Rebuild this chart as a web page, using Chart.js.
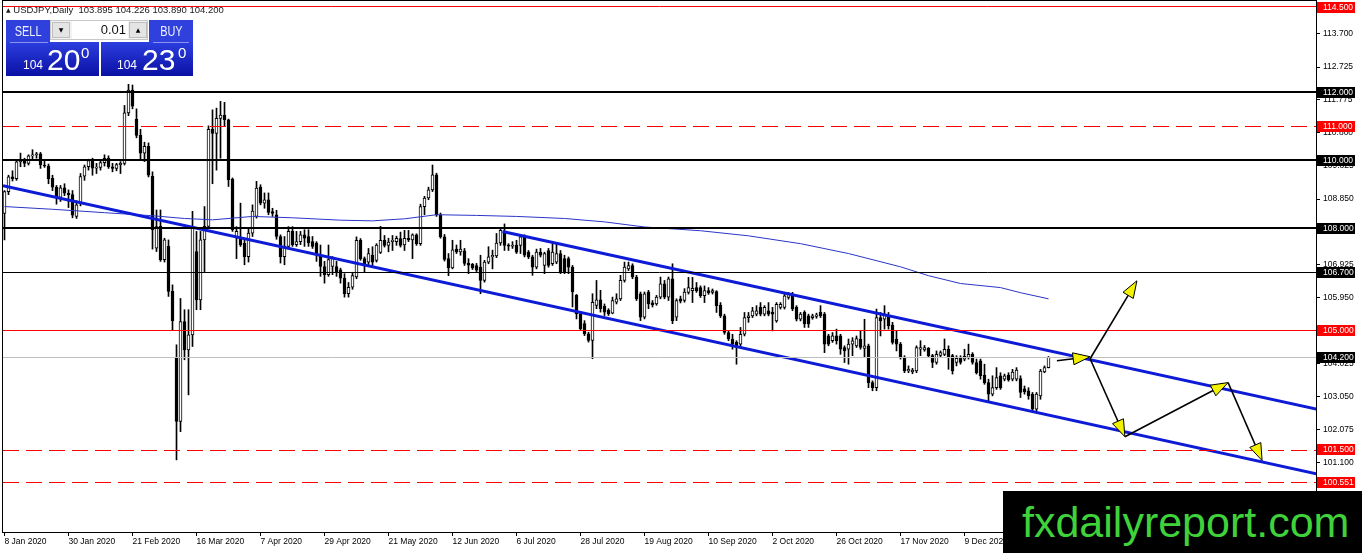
<!DOCTYPE html>
<html>
<head>
<meta charset="utf-8">
<title>USDJPY, Daily</title>
<script src="https://cdn.jsdelivr.net/npm/chart.js@4.4.1/dist/chart.umd.min.js"></script>
<style>
  html, body { margin: 0; padding: 0; background: #fff; overflow: hidden; }
  #wrap { position: relative; width: 1362px; height: 553px; font-family: "Liberation Sans", Arial, sans-serif; }
  #chart { position: absolute; left: 0; top: 0; }
  .abs { position: absolute; }
  #title { left: 6px; top: 5px; font-size: 9.5px; line-height: 10px; color: #1a1a1a; white-space: pre; }
  #title .tri { font-family: "DejaVu Sans"; font-size: 6px; position: relative; top: -1px; }
  .tab { top: 20px; height: 22px; color: #eef0ff; font-size: 14px; line-height: 22px; text-align: center; background: #2f40dc; }
  .tab span { display: inline-block; transform: scaleX(0.78); }
  .quote { top: 42px; height: 34px; color: #fff; background: linear-gradient(#2c3ee0, #0a10a4); }
  .quote .sep { position: absolute; top: 0; height: 1px; background: #8a94f0; }
  .quote .s { position: absolute; top: 17px; font-size: 12px; line-height: 12px; }
  .quote .b { position: absolute; top: 3px; font-size: 30px; line-height: 30px; }
  .quote .p { position: absolute; top: 3px; font-size: 15px; line-height: 15px; }
  #lots { left: 50px; top: 20px; width: 98px; height: 20px; background: #f2f2f2; border: 1px solid #c8c8c8; box-sizing: border-box; }
  #lots .btn { position: absolute; top: 1px; width: 18px; height: 16px; background: #e4e4e4; border: 1px solid #bdbdbd; box-sizing: border-box; font-family: "DejaVu Sans"; font-size: 6px; line-height: 14px; text-align: center; color: #000; }
  #lots .fld { position: absolute; left: 21px; top: 0; width: 56px; height: 18px; background: #fff; font-size: 13px; line-height: 18px; text-align: right; color: #111; box-sizing: border-box; padding-right: 2px; }
  #logo { left: 1003px; top: 491px; width: 359px; height: 62px; background: #000; color: #3fd23a; font-size: 43px; line-height: 62px; padding-left: 19px; box-sizing: border-box; white-space: nowrap; overflow: hidden; }
</style>
</head>
<body>
<div id="wrap">
  <canvas id="chart" width="1362" height="553"></canvas>

  <div id="title" class="abs"><span class="tri">▲</span> USDJPY,Daily  103.895 104.226 103.890 104.200</div>

  <div class="abs tab" style="left:6px;width:44px;"><span>SELL</span></div>
  <div id="lots" class="abs">
    <div class="btn" style="left:1px;">▼</div>
    <div class="fld">0.01</div>
    <div class="btn" style="left:78px;">▲</div>
  </div>
  <div class="abs tab" style="left:149px;width:44px;"><span>BUY</span></div>

  <div class="abs quote" style="left:6px;width:93px;">
    <div class="sep" style="left:4px;width:38px;"></div>
    <span class="s" style="left:17px;">104</span><span class="b" style="left:41px;">20</span><span class="p" style="left:75px;">0</span>
  </div>
  <div class="abs quote" style="left:101px;width:92px;">
    <div class="sep" style="left:52px;width:36px;"></div>
    <span class="s" style="left:16px;">104</span><span class="b" style="left:41px;">23</span><span class="p" style="left:77px;">0</span>
  </div>

  <div id="logo" class="abs">fxdailyreport.com</div>
</div>

<script>
// USDJPY daily candles, 8 Jan 2020 .. 11 Jan 2021 (bar index 0..261)
const barOpen = [
  108.43,109.07,109.50,109.45,109.94,110.00,109.90,110.12,110.15,110.18,
  109.85,109.82,109.46,109.20,108.90,109.18,109.02,108.98,108.34,108.73,
  109.52,109.80,109.98,109.76,109.78,109.92,110.05,109.80,109.75,109.86,
  109.90,111.38,112.05,111.20,110.72,110.20,110.40,109.52,107.41,108.05,
  107.07,107.46,106.14,104.18,102.32,105.25,104.42,104.86,107.31,105.89,
  107.65,108.05,110.90,110.78,111.22,111.32,111.18,109.44,107.70,107.67,
  107.55,107.16,107.85,108.34,109.20,108.73,108.83,108.48,108.39,107.75,
  107.16,107.46,107.90,107.51,107.60,107.80,107.75,107.60,107.56,107.21,
  106.87,106.63,106.87,106.87,106.77,106.53,106.07,106.26,106.56,107.64,
  107.10,107.00,107.20,107.05,107.28,107.64,107.49,107.60,107.60,107.69,
  107.50,107.70,107.65,107.80,107.54,108.63,108.88,109.12,109.56,108.39,
  107.74,107.10,106.83,107.38,107.30,107.33,106.96,106.93,106.90,106.85,
  106.46,107.00,107.15,107.18,107.56,107.88,107.49,107.47,107.49,107.49,
  107.74,107.29,107.15,106.85,107.29,106.90,107.34,106.95,107.00,107.25,
  107.10,107.10,106.85,106.02,105.48,105.19,104.89,104.70,105.73,105.89,
  105.70,105.58,105.50,105.82,105.92,106.46,106.80,106.90,106.56,106.07,
  105.38,106.12,105.80,105.77,105.97,106.36,105.97,106.51,105.38,105.92,
  105.87,106.11,106.16,106.25,106.25,106.01,106.16,106.11,106.13,105.74,
  105.42,104.93,104.74,104.64,104.59,104.88,105.37,105.42,105.47,105.67,
  105.47,105.57,105.52,105.27,105.67,105.67,105.96,106.06,105.67,105.32,
  105.52,105.42,105.37,105.40,105.52,105.47,104.83,104.69,104.83,104.83,
  104.49,104.44,104.59,104.54,104.74,104.46,104.54,103.46,103.31,105.37,
  105.32,105.42,105.15,104.74,104.59,104.20,103.80,103.77,103.80,104.44,
  104.42,104.47,104.25,104.05,104.26,104.29,104.44,104.25,104.05,104.17,
  104.15,104.20,104.29,104.05,104.10,103.68,103.46,103.12,103.31,103.66,
  103.56,103.68,103.56,103.56,103.58,103.28,103.22,103.12,102.68,103.07,
  103.77,103.895
];
const barHigh = [
  109.10,109.55,109.68,110.00,110.20,110.05,110.15,110.30,110.22,110.22,
  110.00,109.88,109.55,109.25,109.25,109.30,109.12,109.10,108.80,109.60,
  109.85,110.02,110.05,109.90,110.00,110.15,110.12,109.90,109.90,109.95,
  111.60,112.22,112.20,111.50,110.90,110.52,110.50,109.65,108.53,108.53,
  107.70,107.65,106.33,104.57,105.93,105.60,105.60,108.49,107.90,107.90,
  108.63,111.00,111.47,111.52,111.72,111.69,111.20,109.47,108.04,108.73,
  107.65,108.00,108.68,109.37,109.27,109.03,109.03,108.58,108.52,107.80,
  107.75,108.04,108.04,107.90,107.90,107.95,107.95,107.75,107.60,107.50,
  107.02,107.50,107.16,107.02,106.82,106.66,106.40,106.70,107.74,107.69,
  107.15,107.40,107.45,107.54,108.05,107.78,107.70,107.78,107.76,107.88,
  107.93,107.93,107.83,107.83,108.70,108.93,109.20,109.85,109.61,108.44,
  107.81,107.25,107.64,107.50,107.64,107.40,107.10,106.96,106.96,107.20,
  107.05,107.45,107.35,107.84,107.98,108.12,107.54,107.60,107.64,107.78,
  107.80,107.34,107.20,107.38,107.40,107.29,107.40,107.54,107.54,107.34,
  107.20,107.15,106.90,106.05,105.53,105.28,104.94,106.07,106.46,106.17,
  105.77,105.63,105.97,106.07,106.61,107.00,107.00,106.95,106.61,106.12,
  106.12,106.17,105.87,106.02,106.56,106.46,106.56,106.95,105.92,106.00,
  106.22,106.55,106.55,106.40,106.30,106.30,106.25,106.21,106.16,105.81,
  105.47,104.98,104.88,104.69,105.08,105.52,105.52,105.67,105.72,105.81,
  105.72,105.81,105.67,105.81,105.81,106.11,106.11,106.11,105.72,105.52,
  105.57,105.47,105.47,105.50,105.72,105.52,104.88,104.93,105.03,104.88,
  104.54,104.74,104.78,104.83,104.98,105.32,104.59,103.51,105.62,105.52,
  105.72,105.52,105.23,104.98,104.64,104.25,103.95,103.88,104.54,104.69,
  104.55,104.49,104.29,104.39,104.39,104.74,104.54,104.29,104.25,104.25,
  104.44,104.59,104.34,104.15,104.15,104.00,103.56,103.66,103.90,103.75,
  103.71,103.75,103.85,103.90,103.66,103.36,103.31,103.17,103.17,103.85,
  103.95,104.226
];
const barLow = [
  107.65,108.98,109.38,109.40,109.80,109.80,109.85,110.00,110.05,109.75,
  109.78,109.30,109.10,108.70,108.78,108.95,108.60,108.30,108.28,108.65,
  109.40,109.70,109.55,109.60,109.70,109.82,109.75,109.65,109.68,109.60,
  109.85,111.30,111.50,110.65,110.00,109.95,109.50,107.38,107.31,107.02,
  107.00,105.99,105.01,101.19,102.02,104.13,103.10,104.52,105.60,105.60,
  106.72,108.00,109.30,109.70,110.05,110.98,109.22,107.90,107.10,107.46,
  106.92,107.00,107.75,108.29,108.68,108.58,108.39,108.34,107.67,106.97,
  106.92,107.40,107.46,107.46,107.51,107.46,107.46,107.40,107.02,106.58,
  106.38,106.58,106.63,106.58,106.38,105.97,105.97,106.20,106.51,107.05,
  106.70,106.90,106.85,107.00,107.25,107.44,107.30,107.34,107.49,107.44,
  107.34,107.60,107.10,107.49,107.49,108.39,108.83,109.07,108.34,107.70,
  107.03,106.60,106.80,107.25,107.20,106.90,106.66,106.78,106.72,106.07,
  106.41,106.95,106.80,107.13,107.49,107.34,107.34,107.40,107.25,107.25,
  107.15,107.10,106.61,106.80,107.15,106.66,106.85,106.90,106.95,106.66,
  106.66,106.66,105.68,105.33,104.99,104.84,104.65,104.16,105.63,105.53,
  105.43,105.43,105.48,105.77,105.87,106.41,106.75,106.51,105.87,105.28,
  105.33,105.63,105.68,105.73,105.92,105.92,105.87,105.19,105.28,105.80,
  105.82,106.06,105.81,106.11,105.96,105.81,106.05,106.06,105.52,105.37,
  104.88,104.69,104.44,104.00,104.49,104.83,105.23,105.37,105.42,105.42,
  105.42,105.42,104.98,105.23,105.62,105.62,105.91,105.57,105.27,105.27,
  105.08,105.08,105.32,105.35,105.37,104.34,104.54,104.64,104.59,104.29,
  104.05,104.00,104.25,104.49,104.44,104.20,103.31,103.22,103.22,104.83,
  105.03,105.03,104.59,104.39,104.15,103.75,103.75,103.72,103.75,104.25,
  104.38,104.20,103.90,104.00,104.22,104.25,103.85,103.71,103.95,104.00,
  104.10,104.15,104.00,103.71,103.56,103.41,102.92,103.07,103.26,103.26,
  103.51,103.50,103.51,103.51,103.02,103.12,102.97,102.63,102.63,102.97,
  103.75,103.890
];
const barClose = [
  109.07,109.50,109.45,109.94,110.00,109.90,110.12,110.15,110.18,109.85,
  109.82,109.45,109.20,108.88,109.18,109.02,108.98,108.38,108.68,109.51,
  109.80,109.98,109.76,109.78,109.92,110.05,109.80,109.75,109.86,109.90,
  111.38,112.05,111.58,110.72,110.20,110.40,109.55,107.95,108.04,107.07,
  107.65,106.14,105.28,102.32,105.25,104.42,104.86,108.00,105.89,107.65,
  108.05,110.90,110.78,111.22,111.32,111.18,109.42,107.95,107.90,107.50,
  107.16,107.85,108.50,109.17,108.73,108.83,108.46,108.43,107.75,107.16,
  107.46,107.90,107.51,107.60,107.80,107.70,107.56,107.46,107.21,106.87,
  106.63,107.07,107.11,106.72,106.53,106.07,106.26,106.60,107.64,107.10,
  106.95,107.25,107.00,107.50,107.64,107.49,107.59,107.64,107.70,107.49,
  107.70,107.65,107.80,107.54,108.63,108.88,109.12,109.56,108.39,107.74,
  107.08,106.83,107.36,107.30,107.38,106.96,106.91,106.83,106.76,106.46,
  107.00,107.15,107.20,107.56,107.93,107.49,107.47,107.50,107.29,107.74,
  107.20,107.15,106.85,107.29,107.20,107.25,106.90,107.29,107.25,106.71,
  106.71,106.85,106.12,105.48,105.04,104.89,104.70,105.82,105.89,105.63,
  105.53,105.48,105.87,105.92,106.46,106.85,106.90,106.56,105.92,105.38,
  106.07,105.77,105.75,105.97,106.36,105.97,106.51,105.28,105.87,105.85,
  106.12,106.25,106.23,106.16,106.01,106.16,106.09,106.16,105.72,105.42,
  104.93,104.74,104.59,104.49,104.88,105.37,105.42,105.57,105.57,105.47,
  105.67,105.47,105.47,105.76,105.76,106.01,106.06,105.62,105.32,105.47,
  105.18,105.18,105.42,105.45,105.42,104.59,104.59,104.83,104.69,104.44,
  104.39,104.59,104.69,104.75,104.49,104.54,103.46,103.31,105.37,105.27,
  105.47,105.13,104.64,104.59,104.20,103.80,103.85,103.83,104.49,104.49,
  104.49,104.25,104.05,104.29,104.34,104.44,104.20,103.80,104.17,104.05,
  104.23,104.29,104.05,103.75,103.66,103.46,103.12,103.31,103.61,103.31,
  103.66,103.54,103.77,103.83,103.17,103.19,103.07,102.68,103.12,103.80,
  103.90,104.200
];

// moving average, read at a few bars
const maBars   = [0, 12, 25, 37, 45, 52, 62, 72, 84, 92, 100, 108, 118, 128, 140, 150, 160, 174, 186, 199, 211, 224, 231, 239, 249, 254, 261];
const maValues = [108.63, 108.55, 108.45, 108.36, 108.28, 108.24, 108.34, 108.30, 108.23, 108.21, 108.27, 108.39, 108.37, 108.34, 108.28, 108.18, 108.03, 107.92, 107.77, 107.54, 107.25, 106.86, 106.60, 106.37, 106.25, 106.10, 105.92];

// trend channel
const lowerChannelBars   = [-0.375, 328];
const lowerChannelPrices = [109.24, 100.78];
const upperChannelBars   = [124.5, 328];
const upperChannelPrices = [107.90, 102.68];

// horizontal levels
const levelPrices = [114.5, 112, 111, 110, 108, 106.7, 105, 104.2, 101.5, 100.551];

// forecast arrows (bar, price)
const arrowFromBar   = [263.1, 271.4, 271.4, 280.1, 305.9];
const arrowFromPrice = [104.10, 104.16, 104.16, 101.87, 103.46];
const arrowToBar     = [271.4, 283.1, 280.1, 305.9, 314.4];
const arrowToPrice   = [104.22, 106.45, 101.87, 103.46, 101.17];

// axes
const yTickValues = [101.1, 102.075, 103.05, 104.025, 105, 105.95, 106.925, 107.9, 108.85, 109.825, 110.8, 111.775, 112.725, 113.7];
const xTickBars   = [0, 16, 32, 48, 64, 80, 96, 112, 128, 144, 160, 176, 192, 208, 224, 240];
const xTickLabels = ['8 Jan 2020', '30 Jan 2020', '21 Feb 2020', '16 Mar 2020', '7 Apr 2020', '29 Apr 2020',
  '21 May 2020', '12 Jun 2020', '6 Jul 2020', '28 Jul 2020', '19 Aug 2020', '10 Sep 2020',
  '2 Oct 2020', '26 Oct 2020', '17 Nov 2020', '9 Dec 2020'];

// styles for the levels (same order as levelPrices)
const RED = '#ff0000';
const levelLook = [
  { color: RED, width: 1, dash: [], tag: RED },
  { color: '#000', width: 2, dash: [], tag: '#000' },
  { color: RED, width: 1, dash: [16, 7], tag: RED },
  { color: '#000', width: 2, dash: [], tag: '#000' },
  { color: '#000', width: 2, dash: [], tag: '#000' },
  { color: '#000', width: 1, dash: [], tag: '#000' },
  { color: RED, width: 1, dash: [], tag: RED },
  { color: '#c0c0c0', width: 1, dash: [], tag: '#000' },
  { color: RED, width: 1, dash: [16, 7], tag: RED },
  { color: RED, width: 1, dash: [16, 7], tag: RED },
];

const FONT = '"Liberation Sans", Arial, sans-serif';
Chart.defaults.font.family = FONT;

const wickData = barHigh.map((h, i) => ({ x: i, y: [barLow[i], h] }));
const bodyData = barOpen.map((o, i) => ({ x: i, y: [o, barClose[i]] }));
const bodyFill = barOpen.map((o, i) => (barClose[i] >= o ? '#ffffff' : '#000000'));
const maData = maBars.map((b, i) => ({ x: b, y: maValues[i] }));
const lowerData = lowerChannelBars.map((b, i) => ({ x: b, y: lowerChannelPrices[i] }));
const upperData = upperChannelBars.map((b, i) => ({ x: b, y: upperChannelPrices[i] }));

// no label padding: keep the plot flush with the frame
function noPad(s) {
  s.paddingTop = 0; s.paddingBottom = 0; s.paddingLeft = 0; s.paddingRight = 0;
}

// pixel row for a 1px line (thin coloured lines kept on even rows so they stay coloured after jpeg)
function lineRow(pix, look) {
  if (look.width % 2 === 0) return Math.round(pix);
  const r = look.color === RED ? 2 * Math.round(pix / 2) : Math.round(pix);
  return r + 0.5;
}

// levels, arrows, frame and price tags
const overlay = {
  id: 'overlay',
  afterDatasetsDraw(chart) {
    const { ctx, chartArea: a, scales: { x, y } } = chart;
    ctx.save();
    ctx.beginPath();
    ctx.rect(a.left, a.top, a.right - a.left, a.bottom - a.top);
    ctx.clip();

    levelPrices.forEach((p, i) => {
      const look = levelLook[i];
      const py = lineRow(y.getPixelForValue(p), look);
      ctx.strokeStyle = look.color;
      ctx.lineWidth = look.width;
      ctx.setLineDash(look.dash);
      ctx.beginPath();
      ctx.moveTo(a.left, py);
      ctx.lineTo(a.right, py);
      ctx.stroke();
    });
    ctx.setLineDash([]);

    arrowToBar.forEach((tb, i) => {
      const x0 = x.getPixelForValue(arrowFromBar[i]), y0 = y.getPixelForValue(arrowFromPrice[i]);
      const x1 = x.getPixelForValue(tb), y1 = y.getPixelForValue(arrowToPrice[i]);
      const ang = Math.atan2(y1 - y0, x1 - x0);
      const len = 17, half = 6;
      const bx = x1 - len * Math.cos(ang), by = y1 - len * Math.sin(ang);
      ctx.strokeStyle = '#000';
      ctx.lineWidth = 1.6;
      ctx.beginPath();
      ctx.moveTo(x0, y0);
      ctx.lineTo(bx, by);
      ctx.stroke();
      ctx.beginPath();
      ctx.moveTo(x1, y1);
      ctx.lineTo(bx + half * Math.sin(ang), by - half * Math.cos(ang));
      ctx.lineTo(bx - half * Math.sin(ang), by + half * Math.cos(ang));
      ctx.closePath();
      ctx.fillStyle = '#f2f200';
      ctx.fill();
      ctx.lineWidth = 1;
      ctx.stroke();
    });
    ctx.restore();

    ctx.save();
    ctx.strokeStyle = '#000';
    ctx.lineWidth = 1;
    ctx.strokeRect(a.left - 0.5, a.top - 0.5, a.right - a.left + 1, a.bottom - a.top + 1);
    ctx.restore();
  },
  afterDraw(chart) {
    const { ctx, chartArea: a, scales: { y } } = chart;
    ctx.save();
    ctx.font = '8.5px ' + FONT;
    ctx.textBaseline = 'middle';
    levelPrices.forEach((p, i) => {
      const py = Math.round(y.getPixelForValue(p));
      ctx.fillStyle = levelLook[i].tag;
      ctx.fillRect(a.right + 1, py - 5, 38, 11);
      ctx.fillStyle = '#fff';
      ctx.fillText(p.toFixed(3), a.right + 7, py + 0.5);
    });
    ctx.restore();
  }
};

new Chart(document.getElementById('chart'), {
  type: 'bar',
  data: {
    datasets: [
      { type: 'line', data: upperData, borderColor: '#0d1ad6', borderWidth: 3, pointRadius: 0, tension: 0, order: 0 },
      { type: 'line', data: lowerData, borderColor: '#0d1ad6', borderWidth: 3, pointRadius: 0, tension: 0, order: 0 },
      { type: 'line', data: maData, borderColor: '#2a35c8', borderWidth: 1, pointRadius: 0, tension: 0, order: 1 },
      { data: bodyData, backgroundColor: bodyFill, borderColor: '#000', borderWidth: 1, borderSkipped: false,
        barThickness: 3, minBarLength: 1, grouped: false, order: 2 },
      { data: wickData, backgroundColor: '#000', borderWidth: 0, barThickness: 1, grouped: false, order: 3 },
    ]
  },
  options: {
    responsive: false,
    animation: false,
    events: [],
    layout: { padding: { left: 3, top: 1, right: 0, bottom: 0 } },
    plugins: { legend: { display: false }, tooltip: { enabled: false } },
    scales: {
      x: {
        type: 'linear', min: -0.375, max: 327.875, offset: false,
        grid: { display: true, drawOnChartArea: false, drawTicks: true, tickLength: 4, color: '#000', offset: false },
        border: { display: false },
        afterBuildTicks: s => { s.ticks = xTickBars.map(v => ({ value: v })); },
        afterFit: s => { s.height = 21; noPad(s); },
        ticks: {
          autoSkip: false, maxRotation: 0, minRotation: 0, align: 'start', padding: 1,
          color: '#000', font: { size: 8.5 },
          callback: (v, i) => xTickLabels[i]
        }
      },
      y: {
        position: 'right', min: 99.072, max: 114.667,
        grid: { display: true, drawOnChartArea: false, drawTicks: true, tickLength: 4, color: '#000' },
        border: { display: false },
        afterBuildTicks: s => { s.ticks = yTickValues.map(v => ({ value: v })); },
        afterFit: s => { s.width = 46; noPad(s); },
        ticks: { padding: 3, color: '#000', font: { size: 8.5 }, callback: v => v.toFixed(3) }
      }
    }
  },
  plugins: [overlay]
});
</script>
</body>
</html>
